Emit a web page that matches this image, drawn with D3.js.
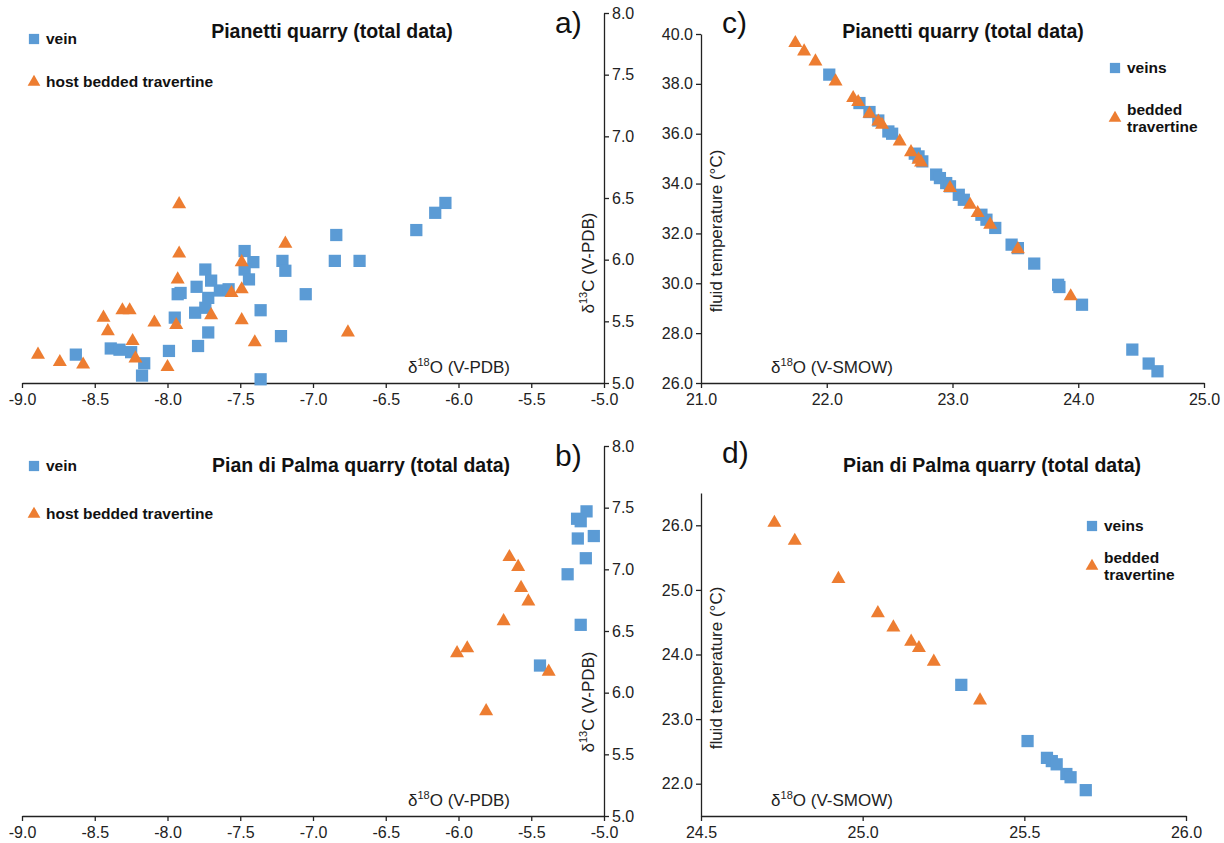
<!DOCTYPE html>
<html>
<head>
<meta charset="utf-8">
<script src="https://cdn.jsdelivr.net/npm/d3@7"></script>
<style>
  body { margin: 0; background: #fff; }
  svg { font-family: "Liberation Sans", Arial, sans-serif; }
  .axis path, .axis line { stroke: #222; stroke-width: 1.3; }
  .axis text { fill: #222; font-size: 16px; }
</style>
</head>
<body>
<div id="chart"></div>
<script>
// data: [d18O, d13C] or [d18O, temperature]
const pianettiVeinPDB = [
    [-8.63, 5.23], [-8.39, 5.28], [-8.33, 5.27], [-8.25, 5.25], [-8.16, 5.16], [-8.175, 5.06],
    [-7.99, 5.26], [-7.95, 5.53], [-7.93, 5.72], [-7.91, 5.73], [-7.80, 5.78], [-7.81, 5.57],
    [-7.79, 5.30], [-7.74, 5.92], [-7.74, 5.61], [-7.72, 5.41], [-7.70, 5.83], [-7.72, 5.69],
    [-7.64, 5.75], [-7.58, 5.76], [-7.47, 6.07], [-7.41, 5.98], [-7.47, 5.92], [-7.44, 5.84],
    [-7.36, 5.59], [-7.36, 5.03], [-7.21, 5.99], [-7.19, 5.91], [-7.22, 5.38], [-7.05, 5.72],
    [-6.84, 6.20], [-6.85, 5.99], [-6.68, 5.99], [-6.29, 6.24], [-6.16, 6.38], [-6.09, 6.46]
];
const pianettiHostPDB = [
    [-8.89, 5.23], [-8.74, 5.17], [-8.58, 5.15], [-8.44, 5.53], [-8.41, 5.42], [-8.31, 5.59],
    [-8.26, 5.59], [-8.24, 5.34], [-8.22, 5.20], [-8.09, 5.49], [-8.00, 5.13], [-7.94, 5.47],
    [-7.93, 5.84], [-7.92, 6.05], [-7.92, 6.45], [-7.70, 5.55], [-7.56, 5.73], [-7.49, 5.76],
    [-7.49, 5.98], [-7.49, 5.51], [-7.40, 5.33], [-7.19, 6.13], [-6.76, 5.41]
];
const palmaVeinPDB = [
    [-5.185, 7.41], [-5.12, 7.47], [-5.16, 7.39], [-5.18, 7.25], [-5.07, 7.27],
    [-5.125, 7.09], [-5.25, 6.96], [-5.16, 6.55], [-5.44, 6.22]
];
const palmaHostPDB = [
    [-5.65, 7.10], [-5.59, 7.02], [-5.57, 6.85], [-5.52, 6.74], [-5.69, 6.58],
    [-5.94, 6.36], [-6.01, 6.32], [-5.38, 6.17], [-5.81, 5.85]
];
const pianettiVeinTemp = [
    [22.02, 38.37], [22.26, 37.23], [22.34, 36.87], [22.41, 36.53], [22.49, 36.09], [22.52, 36.00],
    [22.70, 35.20], [22.73, 35.09], [22.76, 34.89], [22.87, 34.36], [22.90, 34.22], [22.95, 34.02],
    [22.98, 33.89], [23.05, 33.55], [23.09, 33.35], [23.23, 32.75], [23.27, 32.55], [23.34, 32.22],
    [23.47, 31.55], [23.52, 31.41], [23.65, 30.79], [23.84, 29.94], [23.85, 29.85], [24.03, 29.14],
    [24.43, 27.34], [24.56, 26.78], [24.63, 26.47]
];
const pianettiHostTemp = [
    [21.75, 39.64], [21.82, 39.30], [21.91, 38.90], [22.07, 38.10], [22.21, 37.43], [22.25, 37.27],
    [22.34, 36.80], [22.41, 36.49], [22.44, 36.36], [22.58, 35.69], [22.67, 35.26], [22.73, 34.96],
    [22.75, 34.85], [22.98, 33.82], [23.14, 33.15], [23.20, 32.82], [23.30, 32.35], [23.52, 31.37],
    [23.94, 29.48]
];
const palmaVeinTemp = [
    [25.305, 23.53], [25.51, 22.66], [25.57, 22.40], [25.585, 22.35], [25.60, 22.30],
    [25.63, 22.15], [25.643, 22.10], [25.69, 21.90]
];
const palmaHostTemp = [
    [24.727, 26.04], [24.79, 25.76], [24.925, 25.17], [25.047, 24.64], [25.095, 24.42],
    [25.15, 24.20], [25.174, 24.10], [25.22, 23.89], [25.363, 23.29]
];

const pdbXTicks = [-9, -8.5, -8, -7.5, -7, -6.5, -6, -5.5, -5];
const pdbYTicks = [5, 5.5, 6, 6.5, 7, 7.5, 8];
const pianettiTempXTicks = [21, 22, 23, 24, 25];
const pianettiTempYTicks = [26, 28, 30, 32, 34, 36, 38, 40];
const palmaTempXTicks = [24.5, 25, 25.5, 26];
const palmaTempYTicks = [22, 23, 24, 25, 26];

const blue = "#5b9bd5";
const orange = "#ed7d31";

const svg = d3.select("#chart").append("svg")
    .attr("width", 1224)
    .attr("height", 843);

const fmt = d => d.toFixed(1);

// label like "δ18O (V-PDB)" with a raised number
function deltaLabel(g, x, y, iso, rest, rotate) {
    const t = g.append("text")
        .attr("font-size", 17)
        .attr("fill", "#222")
        .attr("text-anchor", "middle")
        .attr("transform", `translate(${x},${y})` + (rotate ? " rotate(-90)" : ""));
    t.append("tspan").text("δ");
    t.append("tspan").attr("font-size", 11).attr("dy", -7).text(iso);
    t.append("tspan").attr("dy", 7).text(rest);
}

function drawPanel(p) {
    const g = svg.append("g");
    const x = d3.scaleLinear().domain(p.xDomain).range(p.xRange);
    const y = d3.scaleLinear().domain(p.yDomain).range(p.yRange);

    g.append("g")
        .attr("class", "axis")
        .attr("transform", `translate(0,${p.yRange[0]})`)
        .call(d3.axisBottom(x).tickValues(p.xTicks).tickFormat(fmt).tickSize(5).tickSizeOuter(0))
        .selectAll("text").attr("dy", "0.85em");

    const yAxis = p.yRight ? d3.axisRight(y) : d3.axisLeft(y);
    g.append("g")
        .attr("class", "axis")
        .attr("transform", `translate(${p.yRight ? p.xRange[1] : p.xRange[0]},0)`)
        .call(yAxis.tickValues(p.yTicks).tickFormat(fmt).tickSize(5).tickSizeOuter(0));

    const series = [
        { data: p.vein, type: d3.symbolSquare, size: 150, color: blue },
        { data: p.host, type: d3.symbolTriangle, size: 85, color: orange }
    ];
    series.forEach(s => {
        g.selectAll(null)
            .data(s.data)
            .enter().append("path")
            .attr("d", d3.symbol().type(s.type).size(s.size))
            .attr("transform", d => `translate(${x(d[0])},${y(d[1])})`)
            .attr("fill", s.color);
    });

    g.append("text")
        .attr("x", p.title[0]).attr("y", p.title[1])
        .attr("text-anchor", "middle")
        .attr("font-size", 19.5).attr("font-weight", "bold").attr("fill", "#111")
        .text(p.title[2]);

    g.append("text")
        .attr("x", p.letter[0]).attr("y", p.letter[1])
        .attr("font-size", 30).attr("fill", "#111")
        .text(p.letter[2]);

    deltaLabel(g, p.xLabel[0], p.xLabel[1], "18", "O (" + p.xLabel[2] + ")", false);
    if (p.yLabel[2] === "C") {
        deltaLabel(g, p.yLabel[0], p.yLabel[1], "13", "C (V-PDB)", true);
    } else {
        g.append("text")
            .attr("transform", `translate(${p.yLabel[0]},${p.yLabel[1]}) rotate(-90)`)
            .attr("text-anchor", "middle")
            .attr("font-size", 17).attr("fill", "#222")
            .text("fluid temperature (°C)");
    }

    // legend
    const lg = g.append("g").attr("font-size", 15.5).attr("font-weight", "bold").attr("fill", "#111");
    lg.append("path")
        .attr("d", d3.symbol().type(d3.symbolSquare).size(105))
        .attr("transform", `translate(${p.legend[0]},${p.legend[1]})`)
        .attr("fill", blue);
    lg.append("path")
        .attr("d", d3.symbol().type(d3.symbolTriangle).size(70))
        .attr("transform", `translate(${p.legend[0]},${p.legend[2]})`)
        .attr("fill", orange);
    lg.append("text")
        .attr("x", p.legend[0] + 12).attr("y", p.legend[1] + 5)
        .text(p.legendNames[0]);
    const hostLines = p.legendNames[1];
    hostLines.forEach((line, i) => {
        lg.append("text")
            .attr("x", p.legend[0] + 12)
            .attr("y", p.legend[2] + 5 + (i - (hostLines.length - 1) / 2) * 17)
            .text(line);
    });
}

drawPanel({
    xDomain: [-9, -5], xRange: [22, 604], yDomain: [5, 8], yRange: [383, 13],
    xTicks: pdbXTicks, yTicks: pdbYTicks, yRight: true,
    vein: pianettiVeinPDB, host: pianettiHostPDB,
    title: [332, 38, "Pianetti quarry (total data)"],
    letter: [555, 33, "a)"],
    xLabel: [459, 373, "V-PDB"], yLabel: [594, 263, "C"],
    legend: [34, 39, 82], legendNames: ["vein", ["host bedded travertine"]]
});

drawPanel({
    xDomain: [-9, -5], xRange: [22, 604], yDomain: [5, 8], yRange: [816, 446],
    xTicks: pdbXTicks, yTicks: pdbYTicks, yRight: true,
    vein: palmaVeinPDB, host: palmaHostPDB,
    title: [361, 472, "Pian di Palma quarry (total data)"],
    letter: [555, 466, "b)"],
    xLabel: [459, 806, "V-PDB"], yLabel: [594, 702, "C"],
    legend: [34, 466, 514], legendNames: ["vein", ["host bedded travertine"]]
});

drawPanel({
    xDomain: [21, 25], xRange: [701, 1204], yDomain: [26, 40], yRange: [383, 34],
    xTicks: pianettiTempXTicks, yTicks: pianettiTempYTicks, yRight: false,
    vein: pianettiVeinTemp, host: pianettiHostTemp,
    title: [963, 38, "Pianetti quarry (total data)"],
    letter: [722, 33, "c)"],
    xLabel: [832, 373, "V-SMOW"], yLabel: [722, 231, "T"],
    legend: [1115, 68, 118], legendNames: ["veins", ["bedded", "travertine"]]
});

drawPanel({
    xDomain: [24.5, 26], xRange: [701, 1186], yDomain: [21.5, 26.5], yRange: [816, 493],
    xTicks: palmaTempXTicks, yTicks: palmaTempYTicks, yRight: false,
    vein: palmaVeinTemp, host: palmaHostTemp,
    title: [992, 472, "Pian di Palma quarry (total data)"],
    letter: [722, 463, "d)"],
    xLabel: [832, 806, "V-SMOW"], yLabel: [722, 668, "T"],
    legend: [1092, 526, 566], legendNames: ["veins", ["bedded", "travertine"]]
});
</script>
</body>
</html>
